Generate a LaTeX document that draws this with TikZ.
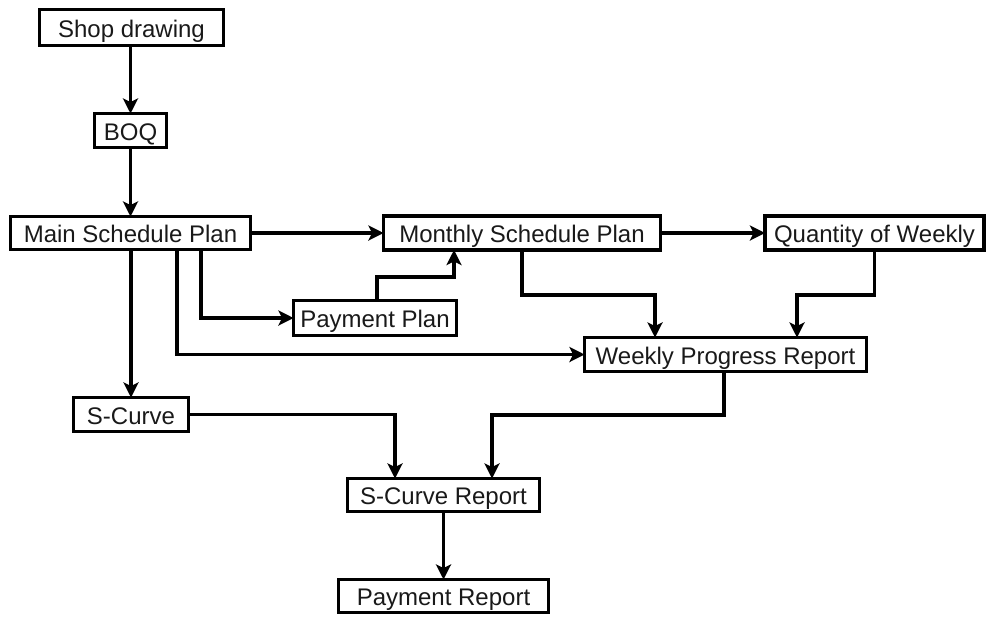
\documentclass[tikz,border=0pt]{standalone}
\usepackage{fontspec}
\setmainfont{Liberation Sans}
\usetikzlibrary{arrows.meta}
\begin{document}
\begin{tikzpicture}[x=1pt,y=-1pt,
  box/.style={draw=black, line width=3.5pt, inner sep=0pt, outer sep=0pt,
    font=\fontsize{24}{28}\selectfont, text=black!90,
    text height=20pt, text depth=1pt},
  arr/.style={line width=3.5pt, -{Stealth[length=15pt,width=15pt,inset=3.5pt]}}]
\useasboundingbox (0,0) rectangle (987,619);
% process boxes (centre, size)
\node[box, minimum width=184pt, minimum height=36pt] (shop)    at (131.5,27.5) {Shop drawing};
\node[box, minimum width=72pt,  minimum height=34pt] (boq)     at (130.5,130.5) {BOQ};
\node[box, minimum width=240pt, minimum height=33pt] (main)    at (130.5,233) {Main Schedule Plan};
\node[box, minimum width=277pt, minimum height=34pt] (monthly) at (522,233) {Monthly Schedule Plan};
\node[box, minimum width=219pt, minimum height=34pt] (qty)     at (874.5,233) {Quantity of Weekly};
\node[box, minimum width=163pt, minimum height=35pt] (pay)     at (375,318) {Payment Plan};
\node[box, minimum width=282pt, minimum height=34pt] (weekly)  at (725.5,354.5) {Weekly Progress Report};
\node[box, minimum width=115pt, minimum height=34pt] (scurve)  at (131,414.5) {S-Curve};
\node[box, minimum width=192pt, minimum height=33pt] (screp)   at (443.5,495) {S-Curve Report};
\node[box, minimum width=210pt, minimum height=33pt] (payrep)  at (443.5,596) {Payment Report};
% connectors
\draw[arr] (shop.south -| boq.north) -- (boq.north);
\draw[arr] (boq.south) -- (main.north);
\draw[arr] (main.east) -- (monthly.west);
\draw[arr] (monthly.east) -- (qty.west);
\draw[arr] (main.south -| scurve.north) -- (scurve.north);
\draw[arr] (main.south -| 201,0) |- (pay.west);
\draw[arr] (main.south -| 177,0) |- (weekly.west);
\draw[arr] (pay.north -| 377,0) |- (454,277) -- (monthly.south -| 454,0);
\draw[arr] (monthly.south) |- (655,295) -- (weekly.north -| 655,0);
\draw[arr] (qty.south) |- (797,295) -- (weekly.north -| 797,0);
\draw[arr] (scurve.east) -| (screp.north -| 395,0);
\draw[arr] (weekly.south -| 724,0) |- (492,415) -- (screp.north -| 492,0);
\draw[arr] (screp.south) -- (payrep.north);
\end{tikzpicture}
\end{document}
